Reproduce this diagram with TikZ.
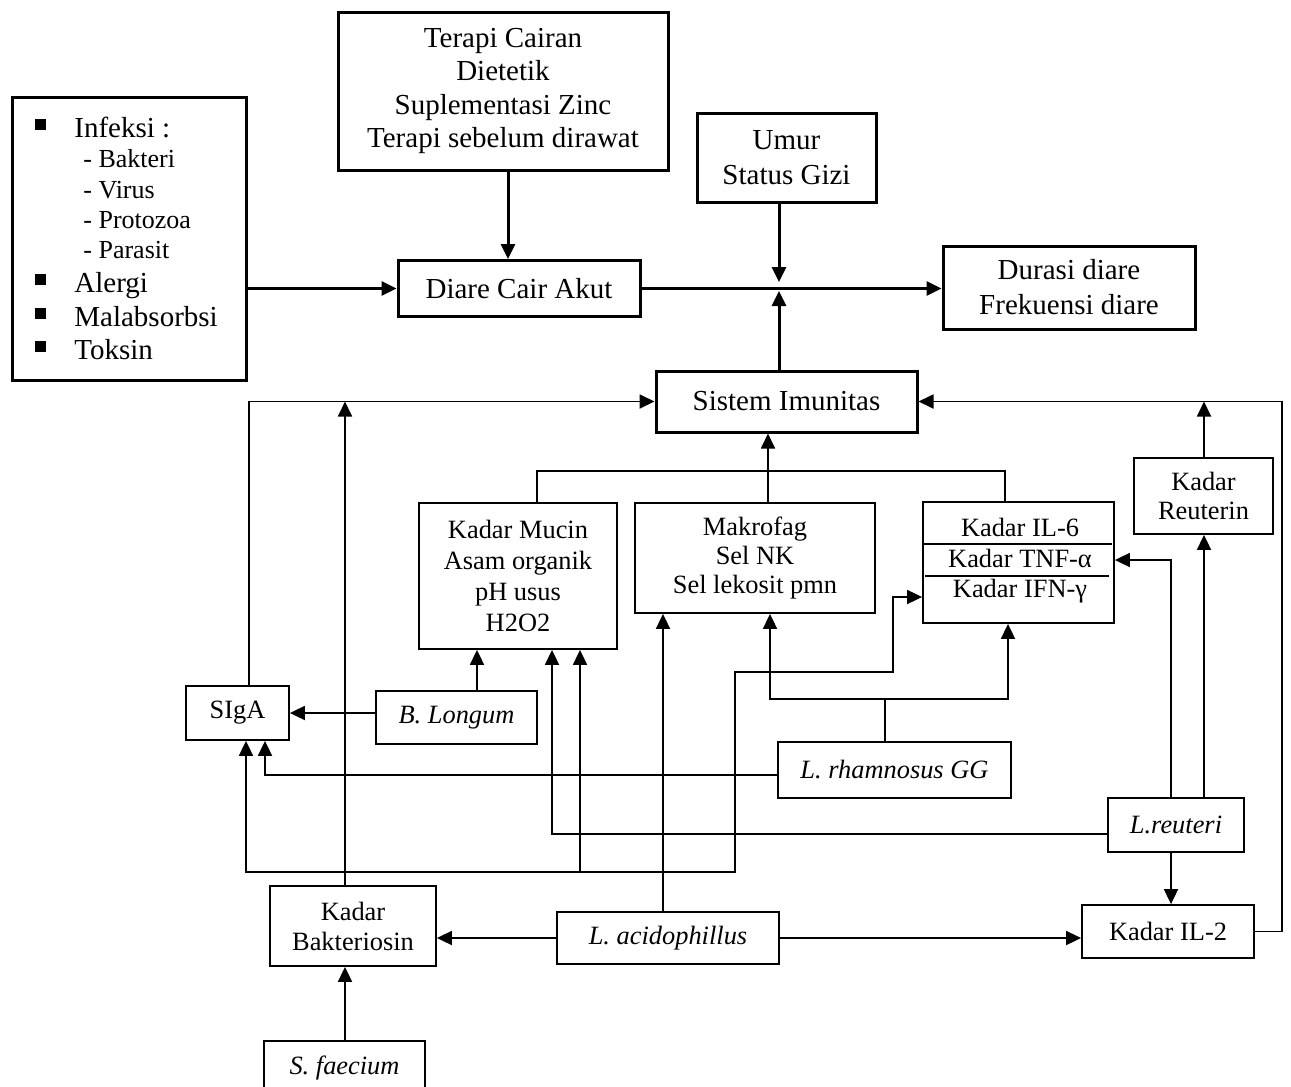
\documentclass[tikz,border=0pt]{standalone}
\usepackage{fontspec}
\setmainfont{Liberation Serif}
\usetikzlibrary{arrows.meta}
\begin{document}
\begin{tikzpicture}[x=0.5pt,y=-0.5pt,
  tbox/.style={draw,line width=1.5pt,inner sep=0pt,align=center,font=\fontsize{14.5}{17}\selectfont},
  sbox/.style={draw,line width=0.9pt,inner sep=0pt,align=center,font=\fontsize{13.2}{15}\selectfont},
  ibox/.style={sbox,font=\fontsize{13.2}{15}\selectfont\itshape},
  txt/.style={inner sep=0pt,font=\fontsize{13.2}{15}\selectfont},
  ltxt/.style={inner sep=0pt,anchor=base west,font=\fontsize{14.5}{17}\selectfont},
  stxt/.style={inner sep=0pt,anchor=base west,font=\fontsize{13}{15}\selectfont},
  arr/.style={-{Triangle[length=7.5pt,width=7pt]}},
  arrtwo/.style={{Triangle[length=7.5pt,width=7pt]}-{Triangle[length=7.5pt,width=7pt]}},
  thk/.style={line width=1.5pt},
  thn/.style={line width=0.9pt},
]
\fill[white] (0,0) rectangle (1291,1087);
\useasboundingbox (0,0) rectangle (1291,1087);

% ---------- top nodes ----------
\node[tbox,minimum width=117pt,minimum height=141.5pt] (inf) at (129,238.5) {};
\node[ltxt] (i1) at (35,137) {\rule[3.5pt]{5.5pt}{5.5pt}\hspace{14pt}Infeksi :};
\node[stxt] (i2) at (83,167) {- Bakteri};
\node[stxt] (i3) at (83,198) {- Virus};
\node[stxt] (i4) at (83,228) {- Protozoa};
\node[stxt] (i5) at (83,258) {- Parasit};
\node[ltxt] (i6) at (35,292) {\rule[3.5pt]{5.5pt}{5.5pt}\hspace{14pt}Alergi};
\node[ltxt] (i7) at (35,326) {\rule[3.5pt]{5.5pt}{5.5pt}\hspace{14pt}Malabsorbsi};
\node[ltxt] (i8) at (35,359) {\rule[3.5pt]{5.5pt}{5.5pt}\hspace{14pt}Toksin};

\node[tbox,minimum width=165pt,minimum height=79pt,font=\fontsize{14.5}{16.7}\selectfont] (ter) at (503,91)
  {Terapi Cairan\\Dietetik\\Suplementasi Zinc\\Terapi sebelum dirawat};
\node[tbox,minimum width=89.5pt,minimum height=44.5pt,font=\fontsize{14.5}{17.5}\selectfont] (umur) at (786.5,157.5)
  {Umur\\Status Gizi};
\node[tbox,minimum width=121pt,minimum height=28pt] (diare) at (519,288.5) {Diare Cair Akut};
\node[tbox,minimum width=126pt,minimum height=41.5pt,font=\fontsize{14.5}{17.5}\selectfont] (dur) at (1069,287.5)
  {Durasi diare\\Frekuensi diare};
\node[tbox,minimum width=130.5pt,minimum height=30.5pt] (sis) at (786.5,401.5) {Sistem Imunitas};

% ---------- middle nodes ----------
\node[sbox,minimum width=99pt,minimum height=73pt,font=\fontsize{13.2}{15.5}\selectfont] (muc) at (518,576)
  {Kadar Mucin\\Asam organik\\pH usus\\H2O2};
\node[sbox,minimum width=120pt,minimum height=55pt,font=\fontsize{13.2}{14.5}\selectfont] (mak) at (755,558)
  {Makrofag\\Sel NK\\Sel lekosit pmn};
\node[sbox,minimum width=95.5pt,minimum height=60.5pt] (il6) at (1018.5,562.5) {};
\node[txt,anchor=base] (t6a) at (1020,536) {Kadar IL-6};
\node[txt,anchor=base] (t6b) at (1020,567) {Kadar TNF-α};
\node[txt,anchor=base] (t6c) at (1020,597) {Kadar IFN-γ};
\draw[thn] (922,544) -- (1112,544);
\draw[thn] (925,576) -- (1109,576);
\node[sbox,minimum width=69.5pt,minimum height=38pt,font=\fontsize{13.2}{14.5}\selectfont] (reu) at (1203.5,496)
  {Kadar\\Reuterin};

% ---------- lower nodes ----------
\node[sbox,minimum width=51.5pt,minimum height=27pt] (siga) at (237.5,713) {SIgA};
\node[ibox,minimum width=80.5pt,minimum height=26.5pt] (blo) at (456.5,717.5) {B. Longum};
\node[ibox,minimum width=116.5pt,minimum height=28pt] (rha) at (894.5,770) {L. rhamnosus GG};
\node[ibox,minimum width=68pt,minimum height=27pt] (lre) at (1176,825) {L.reuteri};
\node[sbox,minimum width=86pt,minimum height=26.5pt] (il2) at (1168,931.5) {Kadar IL-2};
\node[sbox,minimum width=83pt,minimum height=40pt,font=\fontsize{13.2}{15}\selectfont] (bak) at (353,926) {Kadar\\Bakteriosin};
\node[ibox,minimum width=111pt,minimum height=26pt] (aci) at (668,938) {L. acidophillus};
\node[ibox,minimum width=80.5pt,minimum height=27pt] (sfa) at (344.5,1068) {S. faecium};

% ---------- helper coordinates ----------
\foreach \v in {246,249,265,345,477,508,537,552,580,663,735,768,770,779,885,893,1005,1008,1171,1204,1282}
  {\coordinate (x\v) at (\v,0);}
\foreach \h in {471,560,597,672,699,775,834,872}
  {\coordinate (h\h) at (0,\h);}
\coordinate (Ja) at (779,282);
\coordinate (Jb) at (779,291);

% ---------- top connectors ----------
\draw[thk,arr] (inf.east |- diare.west) -- (diare.west);
\draw[thk,arr] (x508 |- ter.south) -- (x508 |- diare.north);
\draw[thk,arr] (diare.east) -- (dur.west |- diare.east);
\draw[thk,arr] (x779 |- umur.south) -- (Ja);
\draw[thk,arr] (x779 |- sis.north) -- (Jb);

% ---------- into Sistem Imunitas ----------
\draw[thn,arr] (x249 |- siga.north) |- (sis.west);
\draw[thn,arr] (x345 |- bak.north) -- (x345 |- sis.west);
\draw[thn,arr] (il2.east) -| (x1282 |- sis.east) -- (sis.east);
\draw[thn,arr] (x1204 |- reu.north) -- (x1204 |- sis.east);
\draw[thn] (x537 |- muc.north) |- (x1005 |- h471) -- (x1005 |- il6.north);
\draw[thn,arr] (x768 |- mak.north) -- (x768 |- sis.south);

% ---------- B. Longum ----------
\draw[thn,arr] (blo.west |- siga.east) -- (siga.east);
\draw[thn,arr] (x477 |- blo.north) -- (x477 |- muc.south);

% ---------- L. rhamnosus GG ----------
\draw[thn] (x885 |- rha.north) -- (x885 |- h699);
\draw[thn,arrtwo] (x770 |- mak.south) |- (x1008 |- h699) -- (x1008 |- il6.south);
\draw[thn,arr] (rha.west |- h775) -| (x265 |- siga.south);

% ---------- L. reuteri ----------
\draw[thn,arr] (lre.west |- h834) -| (x552 |- muc.south);
\draw[thn,arr] (x1171 |- lre.north) |- (il6.east |- h560);
\draw[thn,arr] (x1204 |- lre.north) -- (x1204 |- reu.south);
\draw[thn,arr] (x1171 |- lre.south) -- (x1171 |- il2.north);

% ---------- L. acidophillus ----------
\draw[thn,arr] (x663 |- aci.north) -- (x663 |- mak.south);
\draw[thn,arrtwo] (x246 |- siga.south) |- (x735 |- h872) |- (x893 |- h672) |- (il6.west |- h597);
\draw[thn,arr] (x580 |- h872) -- (x580 |- muc.south);
\draw[thn,arr] (aci.west) -- (bak.east |- aci.west);
\draw[thn,arr] (aci.east) -- (il2.west |- aci.east);

% ---------- S. faecium ----------
\draw[thn,arr] (x345 |- sfa.north) -- (x345 |- bak.south);
\end{tikzpicture}
\end{document}
